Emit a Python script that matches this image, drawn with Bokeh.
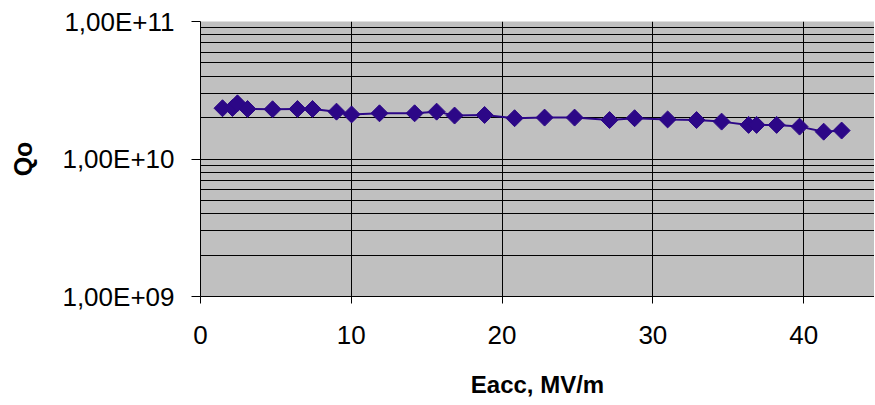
import numpy as np
from bokeh.plotting import figure
from bokeh.models import FixedTicker, CustomJSTickFormatter, Range1d
from bokeh.embed import file_html
from bokeh.resources import INLINE

# Data
eacc = [1.46, 2.12, 2.45, 3.12, 4.78, 6.43, 7.43, 9.02, 10.02, 11.87, 14.20, 15.66,
        16.85, 18.84, 20.83, 22.82, 24.81, 27.13, 28.79, 30.98, 32.90, 34.56, 36.35,
        36.88, 38.21, 39.73, 41.33, 42.52]
q0 = [2.34e10, 2.35e10, 2.54e10, 2.31e10, 2.30e10, 2.31e10, 2.31e10, 2.21e10, 2.11e10,
      2.15e10, 2.15e10, 2.21e10, 2.07e10, 2.09e10, 1.98e10, 2.00e10, 2.00e10, 1.92e10,
      1.98e10, 1.94e10, 1.92e10, 1.87e10, 1.77e10, 1.77e10, 1.77e10, 1.72e10, 1.58e10,
      1.61e10]
x_ticks = [0, 10, 20, 30, 40]
y_major = [1e9, 1e10, 1e11]
y_minor = [m * 10 ** e for e in (9, 10) for m in range(2, 10)]

COLOR = "#2C0787"
FONT = "Liberation Sans"

p = figure(width=874, height=400, y_axis_type="log", output_backend="svg",
           toolbar_location=None, x_range=Range1d(0, 44.7), y_range=Range1d(1e9, 1e11),
           min_border_left=200, min_border_top=21, min_border_right=0, min_border_bottom=104,
           background_fill_color="#C0C0C0", border_fill_color="white",
           outline_line_color=None)

p.line(eacc, q0, line_color=COLOR, line_width=2)
p.scatter(eacc, q0, marker="square", angle=np.pi / 4, size=12,
          fill_color=COLOR, line_color=COLOR)

# grids
p.xgrid.ticker = FixedTicker(ticks=x_ticks)
p.xgrid.grid_line_color = "black"
p.xgrid.grid_line_width = 1
p.ygrid.ticker = FixedTicker(ticks=y_major, minor_ticks=y_minor)
p.ygrid.grid_line_color = "black"
p.ygrid.minor_grid_line_color = "black"
p.ygrid.grid_line_width = 1
p.ygrid.minor_grid_line_width = 1

# x axis
xa = p.xaxis[0]
xa.ticker = FixedTicker(ticks=x_ticks)
xa.axis_label = "Eacc, MV/m"
xa.axis_label_text_font = FONT
xa.axis_label_text_font_style = "bold"
xa.axis_label_text_font_size = "24px"
xa.axis_label_text_color = "black"
xa.axis_label_standoff = 24
xa.major_label_text_font = FONT
xa.major_label_text_font_size = "26px"
xa.major_label_text_color = "black"
xa.major_label_standoff = 22
xa.major_tick_out = 7
xa.major_tick_in = 0
xa.minor_tick_line_color = None
xa.axis_line_color = "black"
xa.major_tick_line_color = "black"

# y axis
ya = p.yaxis[0]
ya.ticker = FixedTicker(ticks=y_major, minor_ticks=y_minor)
ya.formatter = CustomJSTickFormatter(code="""
const e = Math.round(Math.log10(tick));
return "1,00E+" + (e < 10 ? "0" : "") + e;
""")
ya.axis_label = "Qo"
ya.axis_label_text_font = FONT
ya.axis_label_text_font_style = "bold"
ya.axis_label_text_font_size = "25px"
ya.axis_label_text_color = "black"
ya.axis_label_standoff = 22
ya.major_label_text_font = FONT
ya.major_label_text_font_size = "26px"
ya.major_label_text_color = "black"
ya.major_label_standoff = 17
ya.major_tick_out = 9
ya.major_tick_in = 0
ya.minor_tick_line_color = None
ya.axis_line_color = "black"
ya.major_tick_line_color = "black"

open("out.html", "w").write(file_html(p, INLINE))
